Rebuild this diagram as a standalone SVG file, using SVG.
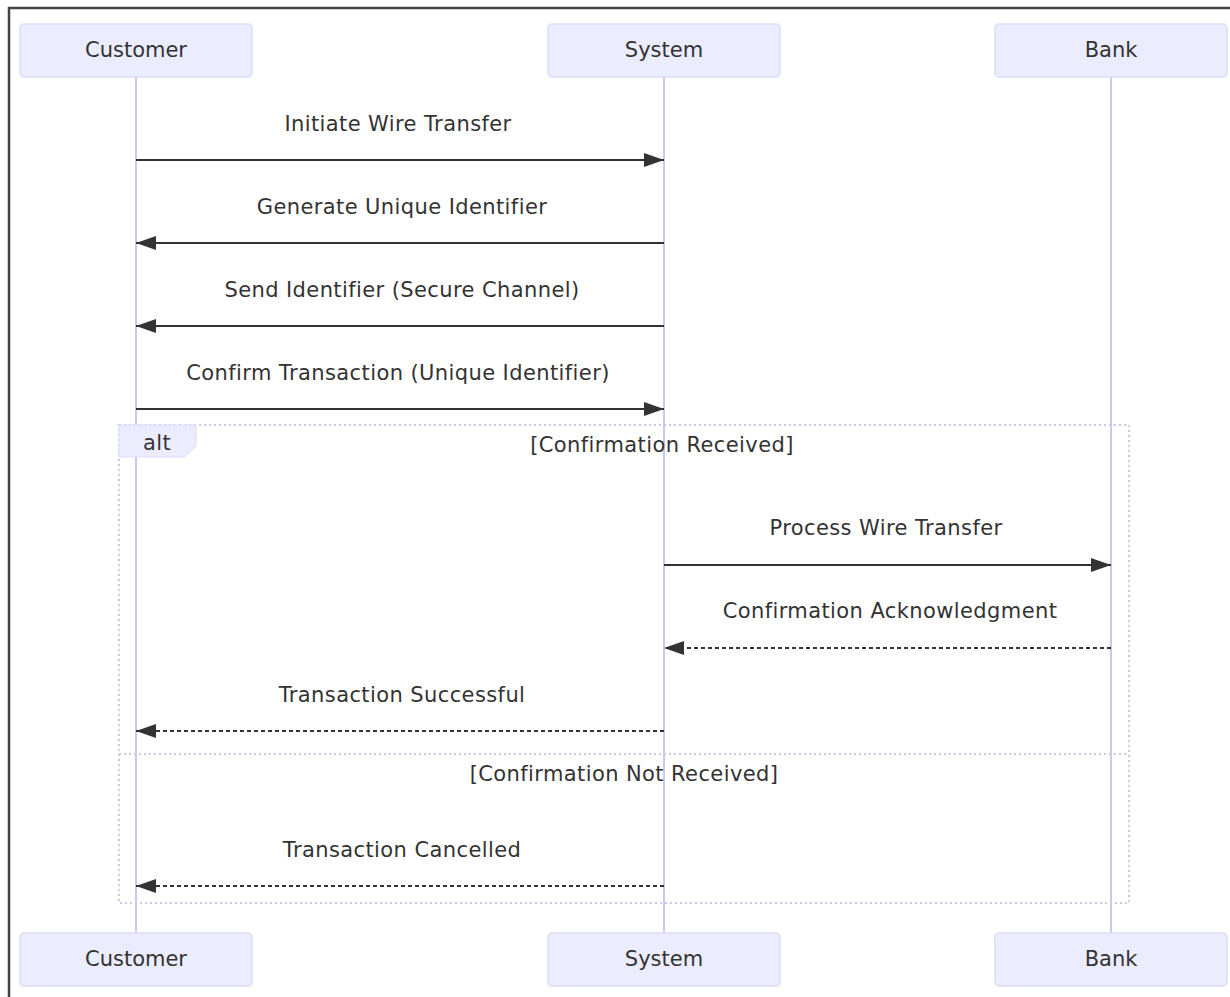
<svg xmlns="http://www.w3.org/2000/svg" width="1230" height="997" viewBox="0 0 1230 997">
<style>
.actor{fill:#ECECFF;stroke:#DCDCF5;stroke-width:1.5}
.atext{font-family:"DejaVu Sans",Verdana,sans-serif;font-size:21px;fill:#333;text-anchor:middle;dominant-baseline:central}
.life{stroke:#C8C8F0;stroke-width:2}
.msg{font-family:"DejaVu Sans",Verdana,sans-serif;font-size:21px;letter-spacing:0.4px;fill:#333;text-anchor:middle}
.solid{stroke:#333;stroke-width:2.2;fill:none}
.dash{stroke:#333;stroke-width:2.2;fill:none;stroke-dasharray:4,3}
.loop{stroke:#C8C8E8;stroke-width:2;fill:none;stroke-dasharray:2,3}
</style>
<defs>
<marker id="ah" viewBox="0 0 20 14" refX="20" refY="7" markerWidth="20" markerHeight="14" markerUnits="userSpaceOnUse" orient="auto">
<path d="M0,0 L20,7 L0,14 z" fill="#333"/>
</marker>
</defs>
<rect width="1230" height="997" fill="#fff"/>
<path d="M9,997 L9,8 L1230,8" stroke="#444" stroke-width="2.5" fill="none"/>
<g id="lifelines">
<line class="life" x1="136" y1="77" x2="136" y2="933"/>
<line class="life" x1="664" y1="77" x2="664" y2="933"/>
<line class="life" x1="1111" y1="77" x2="1111" y2="933"/>
</g>
<g id="actor-customer-top"><rect class="actor" x="20" y="24" width="232" height="53" rx="4"/><text class="atext" x="136" y="50">Customer</text></g>
<g id="actor-system-top"><rect class="actor" x="548" y="24" width="232" height="53" rx="4"/><text class="atext" x="664" y="50">System</text></g>
<g id="actor-bank-top"><rect class="actor" x="995" y="24" width="232" height="53" rx="4"/><text class="atext" x="1111" y="50">Bank</text></g>
<g id="actor-customer-bottom"><rect class="actor" x="20" y="933" width="232" height="53" rx="4"/><text class="atext" x="136" y="959">Customer</text></g>
<g id="actor-system-bottom"><rect class="actor" x="548" y="933" width="232" height="53" rx="4"/><text class="atext" x="664" y="959">System</text></g>
<g id="actor-bank-bottom"><rect class="actor" x="995" y="933" width="232" height="53" rx="4"/><text class="atext" x="1111" y="959">Bank</text></g>
<g id="alt-frame">
<rect class="loop" x="119" y="425" width="1010" height="478"/>
<line class="loop" x1="119" y1="754" x2="1129" y2="754"/>
<path d="M119,425 L196,425 L196,446 L185,457 L119,457 z" fill="#ECECFF" stroke="#DCDCF5" stroke-width="1"/>
<text class="msg" x="157" y="450">alt</text>
<text class="msg" x="662" y="452">[Confirmation Received]</text>
<text class="msg" x="624" y="781">[Confirmation Not Received]</text>
</g>
<g id="connectors">
<line class="solid" x1="136" y1="160" x2="664" y2="160" marker-end="url(#ah)"/>
<text class="msg" x="398" y="131">Initiate Wire Transfer</text>
<line class="solid" x1="664" y1="243" x2="136" y2="243" marker-end="url(#ah)"/>
<text class="msg" x="402" y="214">Generate Unique Identifier</text>
<line class="solid" x1="664" y1="326" x2="136" y2="326" marker-end="url(#ah)"/>
<text class="msg" x="402" y="297">Send Identifier (Secure Channel)</text>
<line class="solid" x1="136" y1="409" x2="664" y2="409" marker-end="url(#ah)"/>
<text class="msg" x="398" y="380">Confirm Transaction (Unique Identifier)</text>
<line class="solid" x1="664" y1="565" x2="1111" y2="565" marker-end="url(#ah)"/>
<text class="msg" x="886" y="535">Process Wire Transfer</text>
<line class="dash" x1="1111" y1="648" x2="664" y2="648" marker-end="url(#ah)"/>
<text class="msg" x="890" y="618">Confirmation Acknowledgment</text>
<line class="dash" x1="664" y1="731" x2="136" y2="731" marker-end="url(#ah)"/>
<text class="msg" x="402" y="702">Transaction Successful</text>
<line class="dash" x1="664" y1="886" x2="136" y2="886" marker-end="url(#ah)"/>
<text class="msg" x="402" y="857">Transaction Cancelled</text>
</g>
</svg>
